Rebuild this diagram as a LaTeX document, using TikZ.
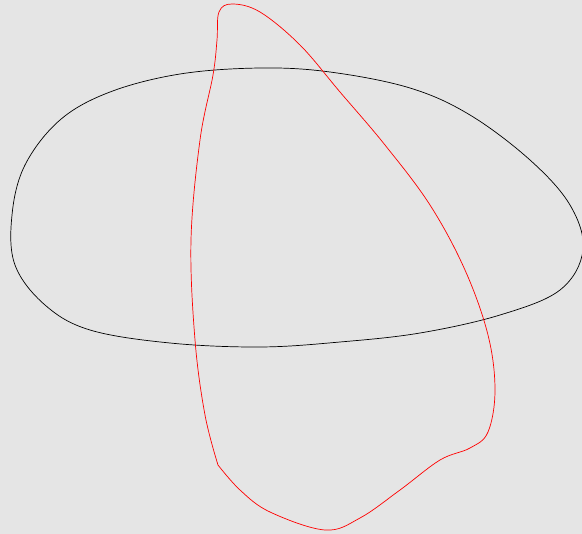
\documentclass[tikz,border=0pt]{standalone}
\begin{document}
\begin{tikzpicture}[x=0.02cm,y=-0.02cm]
  \fill[gray!20] (0,0) rectangle (582,534);
  \useasboundingbox (0,0) rectangle (582,534);
  \begin{scope}
    \clip (0,0) rectangle (582,534);
    \draw[black,thin] plot[smooth cycle,tension=0.6] coordinates {
      (260,68) (330,72) (410,88) (470,115) (530,160) (570,205) (583,250)
      (560,290) (500,315) (420,333) (340,342) (260,347) (170,343) (90,330)
      (45,305) (15,265) (12,215) (25,165) (60,120) (110,92) (180,74)};
    \draw[red,thin] plot[smooth,tension=0.6] coordinates {
      (218,465) (240,490) (270,512) (325,530) (360,518) (400,490) (440,460)
      (470,448) (488,432) (495,390) (488,335) (465,270) (430,205) (385,145)
      (340,92) (300,45) (260,12) (232,4) (219,12) (217,40) (213,75)
      (200,140) (191,240) (195,340) (205,415) (218,465)};
  \end{scope}
\end{tikzpicture}
\end{document}
